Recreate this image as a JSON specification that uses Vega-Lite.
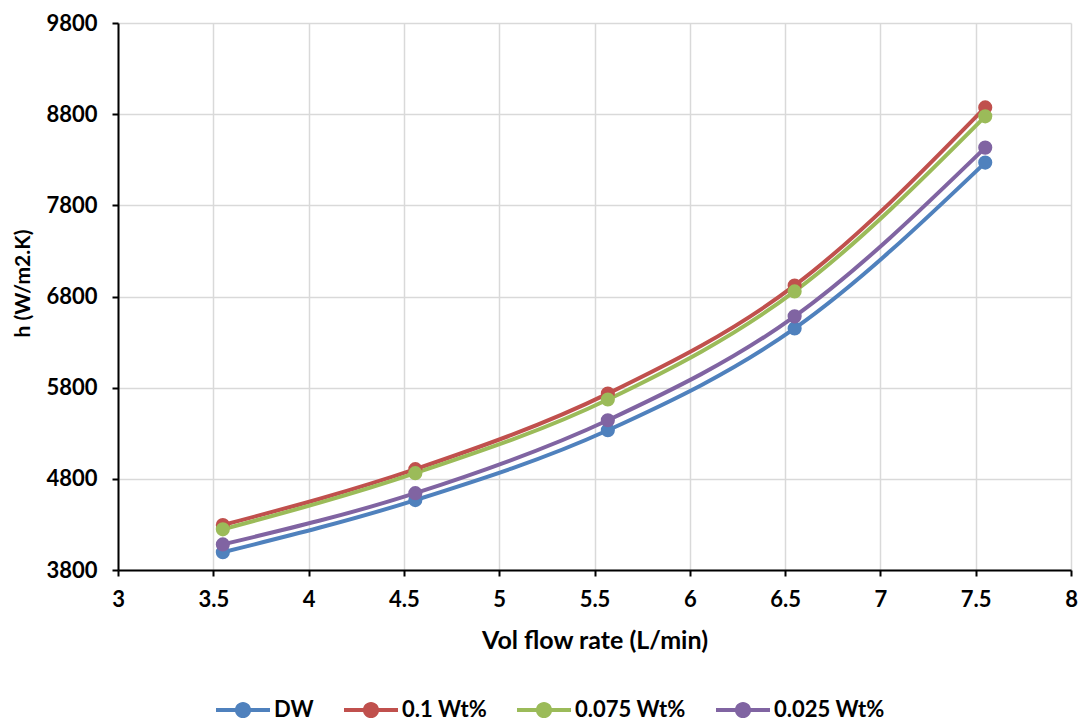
{
  "$schema": "https://vega.github.io/schema/vega-lite/v6.json",
  "width": 953,
  "height": 547,
  "autosize": {"type": "none"},
  "padding": {"left": 118, "top": 23, "right": 12, "bottom": 152},
  "background": "white",
  "config": {
    "view": {"stroke": null},
    "font": "Lato"
  },
  "data": {
    "values": [
      {"x": 3.55, "h": 3995, "s": "DW"},
      {"x": 4.56, "h": 4567, "s": "DW"},
      {"x": 5.57, "h": 5333, "s": "DW"},
      {"x": 6.55, "h": 6450, "s": "DW"},
      {"x": 7.55, "h": 8269, "s": "DW"},
      {"x": 3.55, "h": 4293, "s": "0.1 Wt%"},
      {"x": 4.56, "h": 4906, "s": "0.1 Wt%"},
      {"x": 5.57, "h": 5735, "s": "0.1 Wt%"},
      {"x": 6.55, "h": 6921, "s": "0.1 Wt%"},
      {"x": 7.55, "h": 8874, "s": "0.1 Wt%"},
      {"x": 3.55, "h": 4246, "s": "0.075 Wt%"},
      {"x": 4.56, "h": 4862, "s": "0.075 Wt%"},
      {"x": 5.57, "h": 5670, "s": "0.075 Wt%"},
      {"x": 6.55, "h": 6856, "s": "0.075 Wt%"},
      {"x": 7.55, "h": 8776, "s": "0.075 Wt%"},
      {"x": 3.55, "h": 4081, "s": "0.025 Wt%"},
      {"x": 4.56, "h": 4643, "s": "0.025 Wt%"},
      {"x": 5.57, "h": 5443, "s": "0.025 Wt%"},
      {"x": 6.55, "h": 6582, "s": "0.025 Wt%"},
      {"x": 7.55, "h": 8433, "s": "0.025 Wt%"}
    ]
  },
  "encoding": {
    "x": {
      "field": "x", "type": "quantitative",
      "scale": {"domain": [3, 8], "nice": false, "zero": false},
      "axis": {
        "values": [3, 3.5, 4, 4.5, 5, 5.5, 6, 6.5, 7, 7.5, 8],
        "format": "~g",
        "title": "Vol flow rate (L/min)",
        "titleFontSize": 25, "titleFontWeight": "bold", "titleColor": "black",
        "titleY": 70, "titleBaseline": "middle",
        "labelFontSize": 22, "labelFontWeight": "bold", "labelColor": "black",
        "labelPadding": 13, "labelFlush": false, "labelOverlap": false,
        "domainColor": "black", "domainWidth": 2,
        "tickColor": "black", "tickWidth": 2, "tickSize": 6,
        "grid": true, "gridColor": "#d9d9d9", "gridWidth": 1.5
      }
    },
    "y": {
      "field": "h", "type": "quantitative",
      "scale": {"domain": [3800, 9800], "nice": false, "zero": false},
      "axis": {
        "values": [3800, 4800, 5800, 6800, 7800, 8800, 9800],
        "format": "d",
        "title": "h (W/m2.K)",
        "titleFontSize": 21, "titleFontWeight": "bold", "titleColor": "black",
        "titleX": -95, "titleY": 260, "titleBaseline": "middle", "titleAngle": -90,
        "labelFontSize": 22, "labelFontWeight": "bold", "labelColor": "black",
        "labelPadding": 15, "labelFlush": false,
        "domainColor": "black", "domainWidth": 2,
        "tickColor": "black", "tickWidth": 2, "tickSize": 6,
        "grid": true, "gridColor": "#d9d9d9", "gridWidth": 1.5
      }
    },
    "color": {
      "field": "s", "type": "nominal",
      "sort": ["DW", "0.1 Wt%", "0.075 Wt%", "0.025 Wt%"],
      "scale": {
        "domain": ["DW", "0.1 Wt%", "0.075 Wt%", "0.025 Wt%"],
        "range": ["#4f81bd", "#c0504d", "#9bbb59", "#8064a2"]
      },
      "legend": {
        "title": null,
        "orient": "none",
        "direction": "horizontal",
        "legendX": 98,
        "legendY": 660,
        "symbolType": "M-1,-0.075L1,-0.075L1,0.075L-1,0.075Z M0.3,0A0.3,0.3 0 1,1 -0.3,0A0.3,0.3 0 1,1 0.3,0Z",
        "symbolSize": 2916,
        "symbolStrokeWidth": 0,
        "symbolOpacity": 1,
        "labelFontSize": 22, "labelFontWeight": "bold", "labelColor": "black",
        "labelOffset": 4,
        "columnPadding": 30
      }
    }
  },
  "layer": [
    {
      "mark": {"type": "line", "interpolate": "monotone", "strokeWidth": 4}
    },
    {
      "mark": {"type": "point", "shape": "circle", "filled": true, "size": 200, "opacity": 1}
    }
  ]
}
